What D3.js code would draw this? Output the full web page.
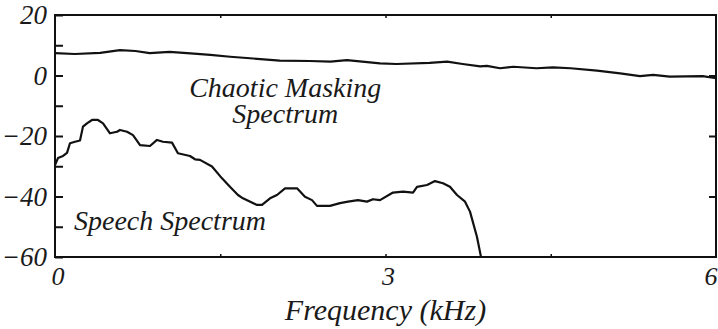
<!DOCTYPE html>
<html><head><meta charset="utf-8">
<script src="https://cdn.jsdelivr.net/npm/d3@7"></script>
<style>
html,body{margin:0;padding:0;background:#fff;}
</style></head>
<body><svg id="c" width="718" height="329"></svg>
<script>
// Chaotic masking spectrum (kHz, dB)
const maskFreq = [0,0.18,0.41,0.59,0.73,0.86,1.04,1.23,1.41,1.59,1.77,2.04,2.31,2.50,2.65,2.95,3.10,3.40,3.56,3.70,3.86,3.92,4.04,4.16,4.37,4.52,4.68,4.92,5.13,5.31,5.43,5.58,5.88,6.0];
const maskDb   = [7.4,7.1,7.5,8.4,8.1,7.4,7.8,7.3,6.8,6.2,5.7,4.9,4.8,4.6,5.1,4.0,3.8,4.2,4.6,3.8,3.0,3.2,2.4,2.9,2.4,2.7,2.4,1.6,0.7,-0.2,0.2,-0.4,-0.2,-0.9];
// Speech spectrum (kHz, dB)
const speechFreq = [0,0.027,0.073,0.109,0.136,0.182,0.227,0.254,0.290,0.336,0.390,0.436,0.499,0.563,0.590,0.654,0.708,0.772,0.862,0.926,0.980,1.062,1.116,1.225,1.271,1.316,1.425,1.516,1.588,1.661,1.706,1.834,1.879,1.952,2.015,2.088,2.197,2.269,2.333,2.378,2.496,2.587,2.660,2.750,2.832,2.886,2.950,3.068,3.159,3.250,3.286,3.377,3.449,3.522,3.585,3.649,3.722,3.767,3.830,3.867];
const speechDb   = [-29.6,-27.3,-26.6,-25.6,-22.4,-21.9,-21.5,-16.9,-15.8,-14.7,-14.7,-15.8,-19.1,-18.6,-18.0,-18.6,-19.7,-23.0,-23.3,-21.3,-21.9,-22.2,-25.7,-26.6,-27.7,-27.9,-30.1,-34.0,-36.8,-39.5,-40.6,-42.8,-42.8,-40.6,-39.5,-37.3,-37.3,-40.1,-41.2,-43.1,-43.1,-42.2,-41.7,-41.2,-41.7,-40.9,-41.2,-38.7,-38.4,-38.7,-36.8,-36.2,-34.9,-35.6,-36.8,-39.5,-41.7,-45.0,-53.3,-60];
const xTickLabels = [0,3,6];
const yTickLabels = [20,0,-20,-40,-60];
const yMinorTicks = [10,-10,-30,-50];
const xMinorTicks = [1.5,3,4.5];
const annotations = [
  {text:"Chaotic Masking", f:2.09, db:-7.1},
  {text:"Spectrum", f:2.09, db:-15.7},
  {text:"Speech Spectrum", f:1.044, db:-51.1}
];
const xLabel = "Frequency (kHz)";

const FONT = "'Liberation Serif', 'Times New Roman', serif";
const svg = d3.select("#c");
const L=55, R=716, T=15, B=257;
const x = d3.scaleLinear().domain([0,6]).range([L,R]);
const y = d3.scaleLinear().domain([-60,20]).range([B,T]);
const fmt = v => v<0 ? "\u2212"+Math.abs(v) : String(v);

function txt(sel){ return sel.attr("font-family",FONT).attr("font-style","italic").attr("fill","#1a1a1a"); }

// frame
svg.append("rect").attr("x",L).attr("y",T).attr("width",R-L).attr("height",B-T)
  .attr("fill","none").attr("stroke","#111").attr("stroke-width",2);

// left axis ticks (inward)
const gl = svg.append("g").attr("transform",`translate(${L},0)`)
  .call(d3.axisRight(y).tickValues(yTickLabels.concat(yMinorTicks)).tickSize(8).tickFormat(""));
gl.select(".domain").remove();
gl.selectAll("line").attr("stroke","#111").attr("stroke-width",2);
// right axis ticks (inward)
const gr = svg.append("g").attr("transform",`translate(${R},0)`)
  .call(d3.axisLeft(y).tickValues([0,-20,-40]).tickSize(7).tickFormat(""));
gr.select(".domain").remove();
gr.selectAll("line").attr("stroke","#111").attr("stroke-width",2);
// bottom/top minor ticks
const gb = svg.append("g").attr("transform",`translate(0,${B})`)
  .call(d3.axisTop(x).tickValues(xMinorTicks).tickSize(3).tickFormat(""));
gb.select(".domain").remove();
gb.selectAll("line").attr("stroke","#111").attr("stroke-width",1.5);
const gt = svg.append("g").attr("transform",`translate(0,${T})`)
  .call(d3.axisBottom(x).tickValues(xMinorTicks).tickSize(3).tickFormat(""));
gt.select(".domain").remove();
gt.selectAll("line").attr("stroke","#111").attr("stroke-width",1.5);

// y tick labels
txt(svg.append("g").selectAll("text").data(yTickLabels).join("text"))
  .attr("x",47).attr("y",d=>y(d)+9).attr("text-anchor","end")
  .attr("font-size",27).text(fmt);
// x tick labels
txt(svg.append("g").selectAll("text").data(xTickLabels).join("text"))
  .attr("x",d=>Math.min(x(d)+3,711)).attr("y",B+28).attr("text-anchor","middle")
  .attr("font-size",26).text(fmt);
// x axis title
txt(svg.append("text")).attr("x",x(3)).attr("y",B+63).attr("text-anchor","middle")
  .attr("font-size",30).text(xLabel);

// lines
const line = d3.line().x(d=>x(d[0])).y(d=>y(d[1])).curve(d3.curveLinear);
svg.append("path").datum(d3.zip(maskFreq,maskDb)).attr("d",line)
  .attr("fill","none").attr("stroke","#111").attr("stroke-width",2.2).attr("stroke-linejoin","round");
svg.append("path").datum(d3.zip(speechFreq,speechDb)).attr("d",line)
  .attr("fill","none").attr("stroke","#111").attr("stroke-width",2.2).attr("stroke-linejoin","round");

// annotations
txt(svg.append("g").selectAll("text").data(annotations).join("text"))
  .attr("x",d=>x(d.f)).attr("y",d=>y(d.db)).attr("text-anchor","middle")
  .attr("font-size",28).text(d=>d.text);
</script></body></html>
